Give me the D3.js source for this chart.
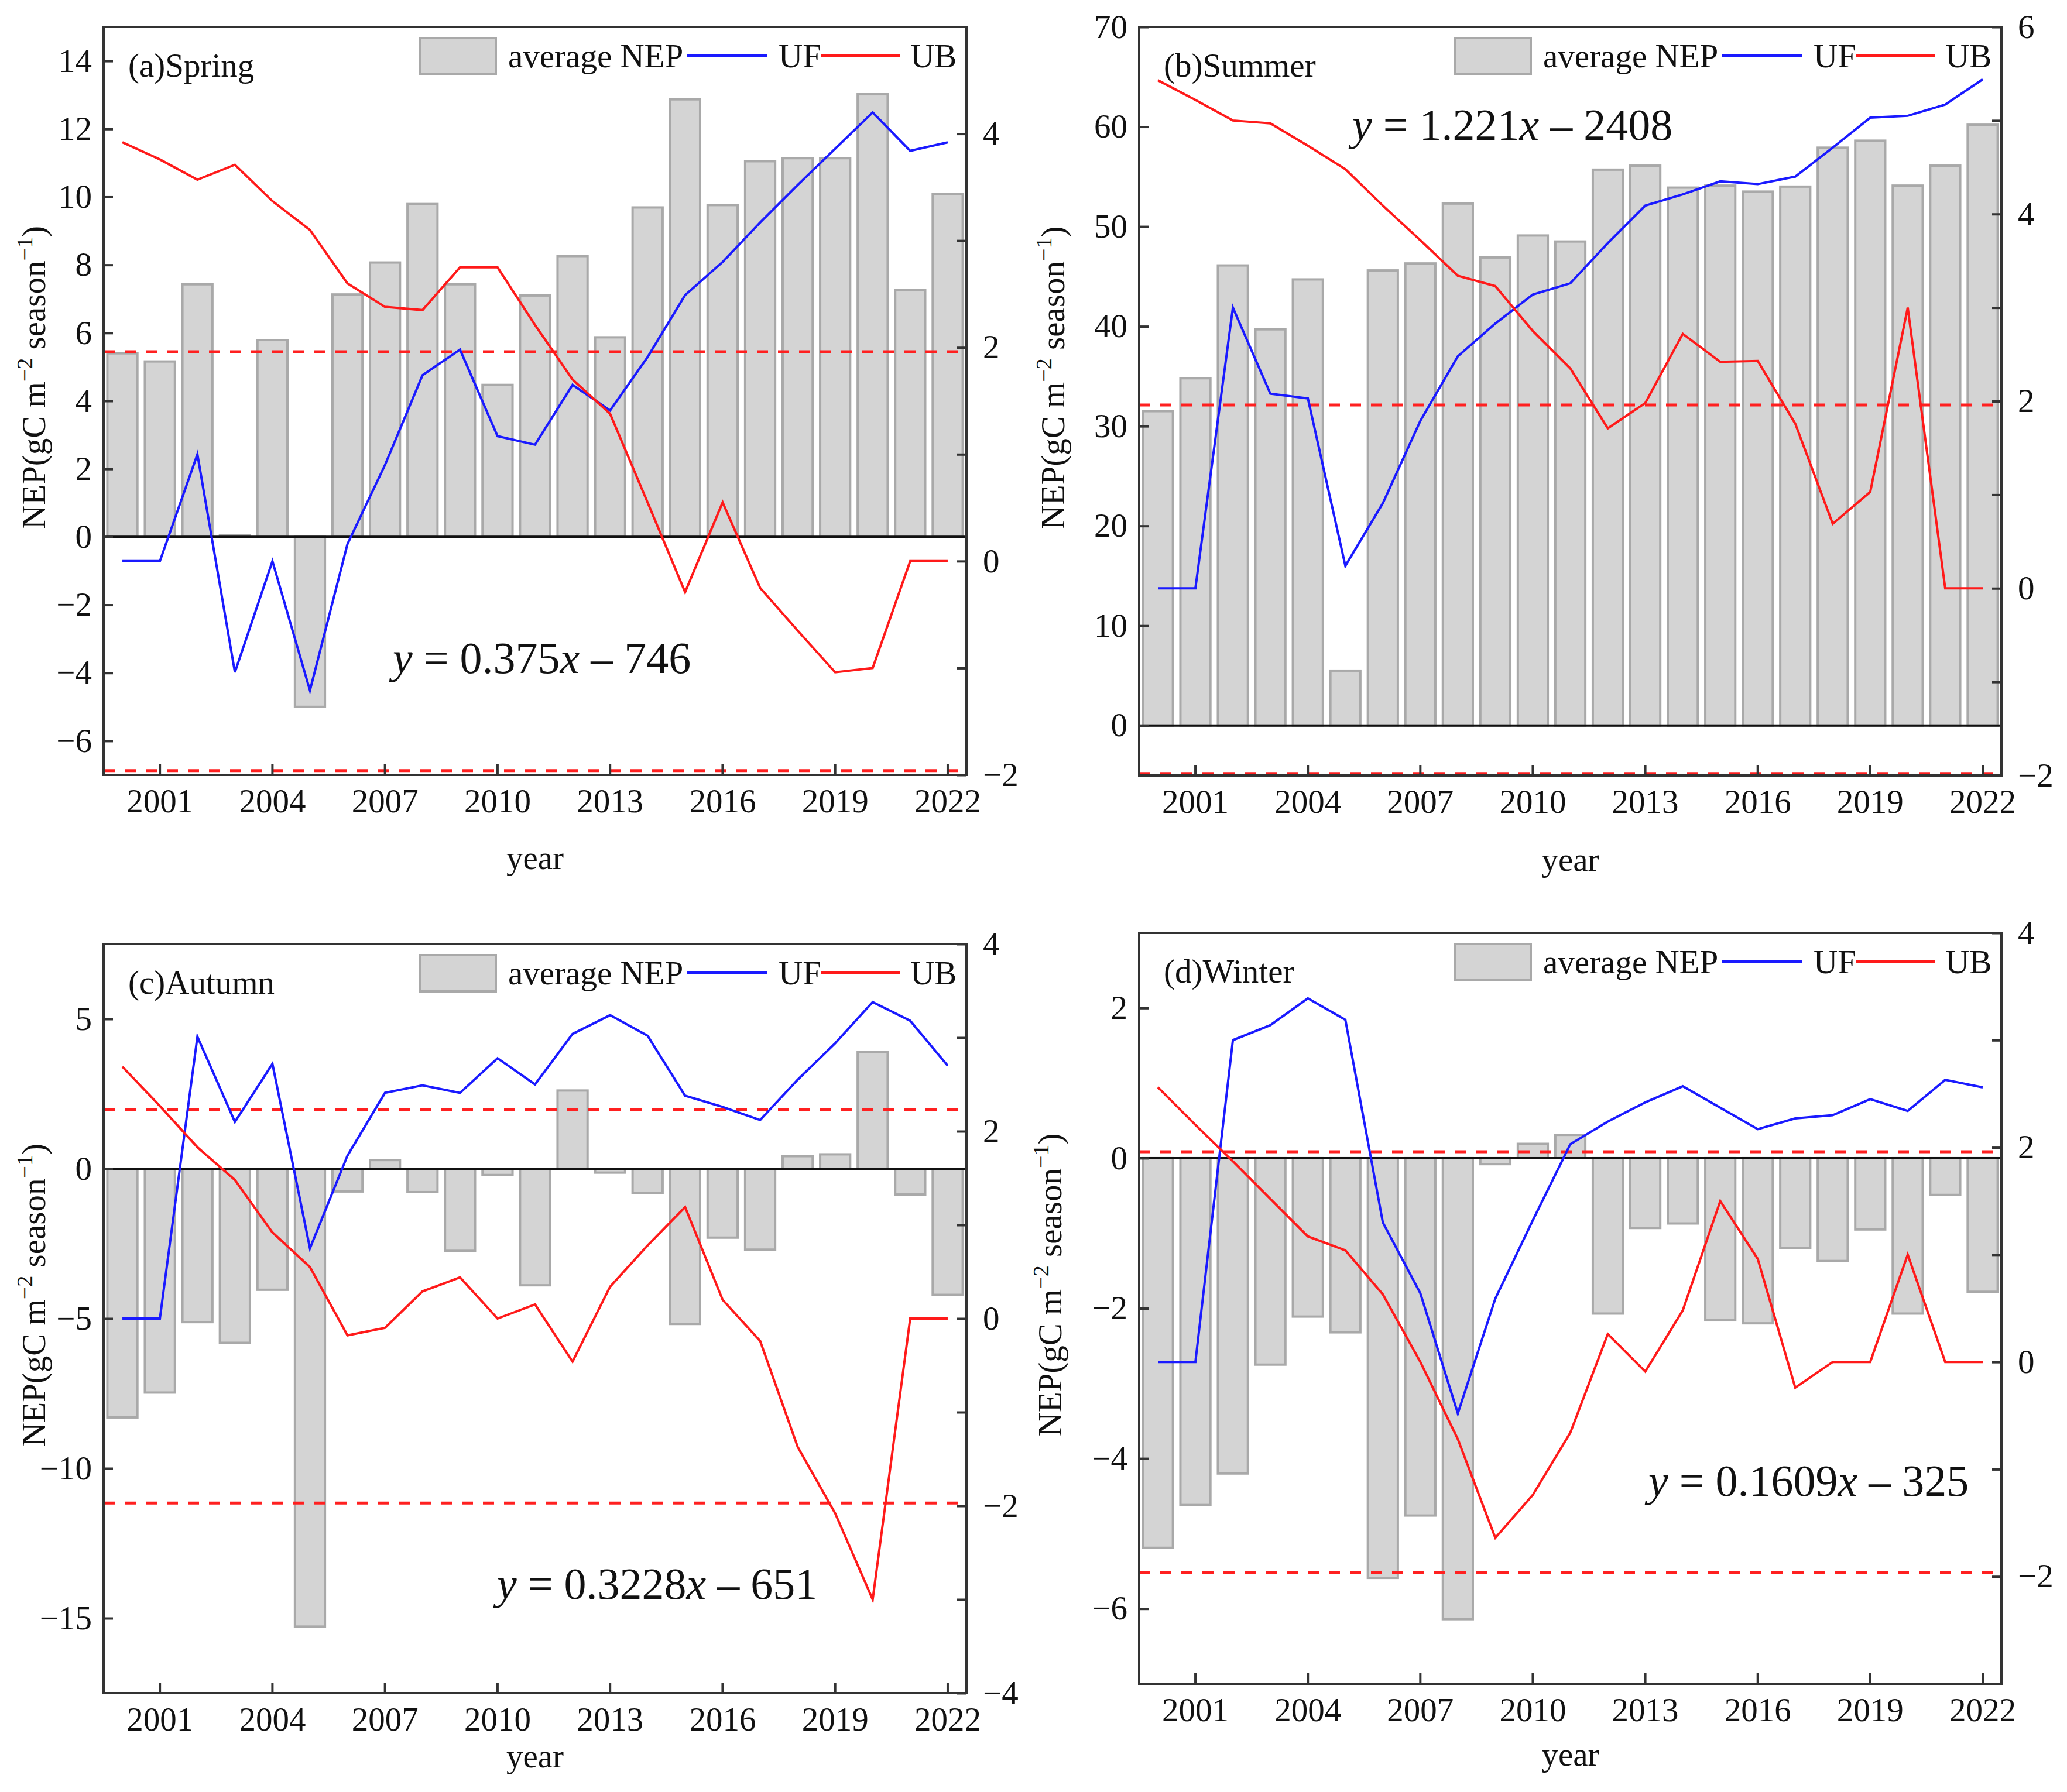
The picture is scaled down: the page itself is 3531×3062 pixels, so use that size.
<!DOCTYPE html>
<html>
<head>
<meta charset="utf-8">
<script src="https://cdn.jsdelivr.net/npm/d3@7"></script>
<style>
body { margin: 0; background: #fff; }
text { font-family: "Liberation Serif", "Times New Roman", serif; }
</style>
</head>
<body>
<div class="canvas"></div>
<script>
const years = [2000, 2001, 2002, 2003, 2004, 2005, 2006, 2007, 2008, 2009, 2010, 2011,
    2012, 2013, 2014, 2015, 2016, 2017, 2018, 2019, 2020, 2021, 2022]
const yearTicks = [2001, 2004, 2007, 2010, 2013, 2016, 2019, 2022]
const legendLabels = ["average NEP", "UF", "UB"]

// spring
const springNEP = [5.4, 5.16, 7.43, 0.04, 5.79, -5.0, 7.13, 8.07, 9.79, 7.43, 4.47, 7.1,
    8.26, 5.87, 9.69, 12.87, 9.76, 11.05, 11.14, 11.14, 13.02, 7.27, 10.09]
const springUF = [0, 0, 1.0, -1.04, 0, -1.21, 0.16, 0.9, 1.74, 1.98, 1.17, 1.09,
    1.65, 1.41, 1.91, 2.49, 2.8, 3.17, 3.52, 3.86, 4.2, 3.84, 3.92]
const springUB = [3.92, 3.76, 3.57, 3.71, 3.37, 3.1, 2.6, 2.38, 2.35, 2.75, 2.75, 2.21,
    1.7, 1.38, 0.55, -0.29, 0.55, -0.25, -0.65, -1.04, -1.0, 0, 0]
const springSig = [1.96, -1.96]
const springLeftTicks = [-6, -4, -2, 0, 2, 4, 6, 8, 10, 12, 14]
const springRightTicks = [-2, -1, 0, 1, 2, 3, 4]
const springEq = ["0.375", "746"]

// summer
const summerNEP = [31.5, 34.8, 46.1, 39.7, 44.7, 5.5, 45.6, 46.3, 52.3, 46.9, 49.1, 48.5,
    55.7, 56.1, 53.9, 54.1, 53.5, 54.0, 57.9, 58.6, 54.1, 56.1, 60.2]
const summerUF = [0, 0, 3.0, 2.08, 2.03, 0.24, 0.91, 1.79, 2.48, 2.83, 3.14, 3.26,
    3.69, 4.09, 4.21, 4.35, 4.32, 4.4, 4.71, 5.03, 5.05, 5.17, 5.44]
const summerUB = [5.43, 5.22, 5.0, 4.97, 4.73, 4.48, 4.09, 3.72, 3.34, 3.23, 2.75, 2.35,
    1.71, 1.98, 2.72, 2.42, 2.43, 1.76, 0.69, 1.03, 3.0, 0, 0]
const summerSig = [1.96, -1.98]
const summerLeftTicks = [0, 10, 20, 30, 40, 50, 60, 70]
const summerRightTicks = [-2, -1, 0, 1, 2, 3, 4, 5, 6]
const summerEq = ["1.221", "2408"]

// autumn
const autumnNEP = [-8.3, -7.47, -5.12, -5.81, -4.04, -15.28, -0.76, 0.29, -0.78, -2.74, -0.21, -3.89,
    2.61, -0.13, -0.82, -5.18, -2.3, -2.7, 0.42, 0.48, 3.89, -0.86, -4.21]
const autumnUF = [0, 0, 3.01, 2.1, 2.72, 0.75, 1.74, 2.41, 2.49, 2.41, 2.78, 2.5,
    3.04, 3.24, 3.02, 2.38, 2.26, 2.12, 2.55, 2.94, 3.38, 3.18, 2.7]
const autumnUB = [2.69, 2.27, 1.83, 1.48, 0.92, 0.55, -0.18, -0.1, 0.29, 0.44, 0, 0.15,
    -0.46, 0.34, 0.78, 1.19, 0.2, -0.24, -1.37, -2.08, -3.0, 0, 0]
const autumnSig = [2.23, -1.97]
const autumnLeftTicks = [-15, -10, -5, 0, 5]
const autumnRightTicks = [-4, -3, -2, -1, 0, 1, 2, 3, 4]
const autumnEq = ["0.3228", "651"]

// winter
const winterNEP = [-5.19, -4.62, -4.2, -2.75, -2.11, -2.32, -5.59, -4.76, -6.14, -0.08, 0.19, 0.31,
    -2.07, -0.93, -0.87, -2.16, -2.2, -1.2, -1.37, -0.95, -2.07, -0.49, -1.78]
const winterUF = [0, 0, 3.0, 3.14, 3.39, 3.19, 1.3, 0.64, -0.48, 0.59, 1.32, 2.03,
    2.24, 2.42, 2.57, 2.37, 2.17, 2.27, 2.3, 2.45, 2.34, 2.63, 2.56]
const winterUB = [2.56, 2.21, 1.87, 1.52, 1.17, 1.04, 0.63, 0.0, -0.72, -1.64, -1.24, -0.66,
    0.26, -0.09, 0.48, 1.5, 0.96, -0.24, 0, 0, 1.0, 0, 0]
const winterSig = [1.96, -1.96]
const winterLeftTicks = [-6, -4, -2, 0, 2]
const winterRightTicks = [-3, -2, -1, 0, 1, 2, 3, 4]
const winterEq = ["0.1609", "325"]

const W = 3531, H = 3062
const FS = 57

const panels = [
    { title: "(a)Spring", nep: springNEP, uf: springUF, ub: springUB, sig: springSig,
      leftTicks: springLeftTicks, rightTicks: springRightTicks, eq: springEq,
      left: [-7, 15], right: [-2, 5],
      x: 177, y: 46, w: 1474, h: 1278, eqX: 494, eqY: 1104, yearY: 161, labX: -100 },
    { title: "(b)Summer", nep: summerNEP, uf: summerUF, ub: summerUB, sig: summerSig,
      leftTicks: summerLeftTicks, rightTicks: summerRightTicks, eq: summerEq,
      left: [-5, 70], right: [-2, 6],
      x: 1946, y: 46, w: 1473, h: 1279, eqX: 364, eqY: 193, yearY: 163, labX: -128 },
    { title: "(c)Autumn", nep: autumnNEP, uf: autumnUF, ub: autumnUB, sig: autumnSig,
      leftTicks: autumnLeftTicks, rightTicks: autumnRightTicks, eq: autumnEq,
      left: [-17.5, 7.5], right: [-4, 4],
      x: 177, y: 1613, w: 1474, h: 1280, eqX: 672, eqY: 1119, yearY: 127, labX: -100 },
    { title: "(d)Winter", nep: winterNEP, uf: winterUF, ub: winterUB, sig: winterSig,
      leftTicks: winterLeftTicks, rightTicks: winterRightTicks, eq: winterEq,
      left: [-7, 3], right: [-3, 4],
      x: 1946, y: 1594, w: 1473, h: 1283, eqX: 870, eqY: 962, yearY: 140, labX: -133 }
]

const svg = d3.select(".canvas")
    .append("svg")
    .attr("width", W)
    .attr("height", H)

svg.append("rect").attr("width", W).attr("height", H).attr("fill", "#fff")

const fmt = d3.format("")

panels.forEach(p => {
    const graph = svg.append("g")
        .attr("transform", `translate(${p.x}, ${p.y})`)

    const scaleX = d3.scaleBand()
        .domain(years)
        .range([0, p.w])
        .paddingInner(0.2)
        .paddingOuter(0.1)
    const yLeft = d3.scaleLinear().domain(p.left).range([p.h, 0])
    const yRight = d3.scaleLinear().domain(p.right).range([p.h, 0])
    const cx = y => scaleX(y) + scaleX.bandwidth() / 2

    // bars
    graph.selectAll("rect.bar")
        .data(p.nep)
        .enter()
        .append("rect")
        .attr("class", "bar")
        .attr("x", (d, i) => scaleX(years[i]))
        .attr("width", scaleX.bandwidth())
        .attr("y", d => yLeft(Math.max(0, d)))
        .attr("height", d => Math.abs(yLeft(d) - yLeft(0)))
        .attr("fill", "#d4d4d4")
        .attr("stroke", "#a9a9a9")
        .attr("stroke-width", 4)

    // zero line
    graph.append("line")
        .attr("x1", 0).attr("x2", p.w)
        .attr("y1", yLeft(0)).attr("y2", yLeft(0))
        .attr("stroke", "#111").attr("stroke-width", 4)

    // significance lines
    graph.selectAll("line.sig")
        .data(p.sig)
        .enter()
        .append("line")
        .attr("class", "sig")
        .attr("x1", 0).attr("x2", p.w)
        .attr("y1", d => yRight(d)).attr("y2", d => yRight(d))
        .attr("stroke", "#ff2020")
        .attr("stroke-width", 5)
        .attr("stroke-dasharray", "19 17")

    const line = d3.line()
        .x((d, i) => cx(years[i]))
        .y(d => yRight(d))

    graph.append("path").datum(p.uf)
        .attr("d", line).attr("fill", "none")
        .attr("stroke", "#1a1aff").attr("stroke-width", 4)
    graph.append("path").datum(p.ub)
        .attr("d", line).attr("fill", "none")
        .attr("stroke", "#ff1a1a").attr("stroke-width", 4)

    // axes
    const xAxis = d3.axisBottom(scaleX)
        .tickValues(yearTicks)
        .tickSizeInner(-18).tickSizeOuter(0).tickPadding(24)
    const leftAxis = d3.axisLeft(yLeft)
        .tickValues(p.leftTicks)
        .tickFormat(fmt)
        .tickSizeInner(-16).tickSizeOuter(0).tickPadding(20)
    const rightAxis = d3.axisRight(yRight)
        .tickValues(p.rightTicks)
        .tickFormat(d => d % 2 === 0 ? fmt(d) : "")
        .tickSizeInner(-16).tickSizeOuter(0).tickPadding(28)

    const xg = graph.append("g").attr("transform", `translate(0, ${p.h})`).call(xAxis)
    const lg = graph.append("g").call(leftAxis)
    const rg = graph.append("g").attr("transform", `translate(${p.w}, 0)`).call(rightAxis)

    ;[xg, lg, rg].forEach(a => {
        a.select(".domain").remove()
        a.selectAll(".tick line").attr("stroke", "#333").attr("stroke-width", 4)
        a.selectAll(".tick text")
            .attr("font-size", FS)
            .attr("font-family", "'Liberation Serif', 'Times New Roman', serif")
            .attr("fill", "#111")
    })

    // frame
    graph.append("rect")
        .attr("width", p.w).attr("height", p.h)
        .attr("fill", "none").attr("stroke", "#333").attr("stroke-width", 4)

    // title
    graph.append("text")
        .attr("x", 42).attr("y", 85)
        .attr("font-size", FS).attr("fill", "#111")
        .text(p.title)

    // legend
    const lgd = graph.append("g").attr("transform", `translate(${p.w}, 0)`)
    lgd.append("rect")
        .attr("x", -933).attr("y", 19).attr("width", 129).attr("height", 62)
        .attr("fill", "#d4d4d4").attr("stroke", "#a9a9a9").attr("stroke-width", 4)
    lgd.append("text").attr("x", -783).attr("y", 69)
        .attr("font-size", FS).attr("fill", "#111").text(legendLabels[0])
    lgd.append("line").attr("x1", -478).attr("x2", -340).attr("y1", 49).attr("y2", 49)
        .attr("stroke", "#1a1aff").attr("stroke-width", 4)
    lgd.append("text").attr("x", -321).attr("y", 69)
        .attr("font-size", FS).attr("fill", "#111").text(legendLabels[1])
    lgd.append("line").attr("x1", -248).attr("x2", -113).attr("y1", 49).attr("y2", 49)
        .attr("stroke", "#ff1a1a").attr("stroke-width", 4)
    lgd.append("text").attr("x", -96).attr("y", 69)
        .attr("font-size", FS).attr("fill", "#111").text(legendLabels[2])

    // regression equation
    const eq = graph.append("text")
        .attr("x", p.eqX).attr("y", p.eqY)
        .attr("font-size", 76).attr("fill", "#111")
    eq.append("tspan").attr("font-style", "italic").text("y")
    eq.append("tspan").text(" = " + p.eq[0])
    eq.append("tspan").attr("font-style", "italic").text("x")
    eq.append("tspan").text(" \u2013 " + p.eq[1])

    // axis titles
    graph.append("text")
        .attr("x", p.w / 2).attr("y", p.h + p.yearY)
        .attr("text-anchor", "middle")
        .attr("font-size", FS).attr("fill", "#111")
        .text("year")

    const yl = graph.append("text")
        .attr("transform", `translate(${p.labX}, ${p.h / 2 - 40}) rotate(-90)`)
        .attr("text-anchor", "middle")
        .attr("font-size", FS).attr("fill", "#111")
    yl.append("tspan").text("NEP(gC m")
    yl.append("tspan").attr("font-size", 38).attr("dy", -22).text("\u22122")
    yl.append("tspan").attr("dy", 22).text(" season")
    yl.append("tspan").attr("font-size", 38).attr("dy", -22).text("\u22121")
    yl.append("tspan").attr("dy", 22).text(")")
})
</script>
</body>
</html>
